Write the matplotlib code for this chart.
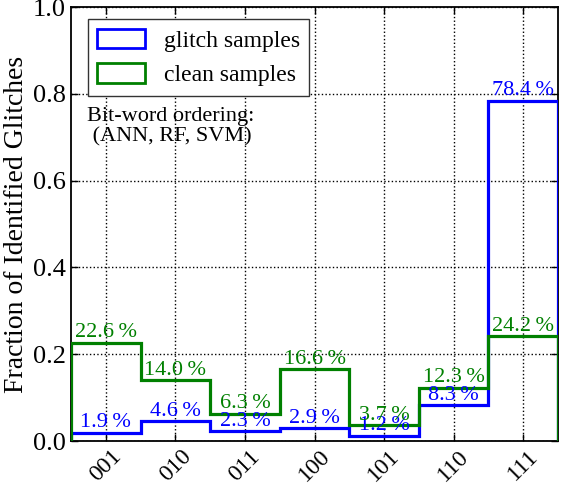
import matplotlib
matplotlib.use("Agg")
import matplotlib.pyplot as plt
import numpy as np
from matplotlib.patches import Patch

categories = ["001", "010", "011", "100", "101", "110", "111"]
glitch = [0.019, 0.046, 0.023, 0.029, 0.012, 0.083, 0.784]
clean = [0.226, 0.140, 0.063, 0.166, 0.037, 0.123, 0.242]

plt.rcParams['font.family'] = ['Liberation Serif', 'DejaVu Serif']

fig = plt.figure(figsize=(5.69, 4.87), dpi=100)
ax = fig.add_axes([71/569, 1-441/487, (558-71)/569, (441-7)/487])

n = len(categories)
edges = np.arange(n + 1)
centers = edges[:-1] + 0.5

ax.stairs(glitch, edges, baseline=0, color='#0000ff', lw=2.3, zorder=3)
ax.stairs(clean, edges, baseline=0, color='#008000', lw=2.3, zorder=3)

for c, v in zip(centers, glitch):
    ax.text(c, v + 0.001, f"{v*100:.1f}\u2009%", color='#0000ff', ha='center', va='bottom', fontsize=16, zorder=4)
for c, v in zip(centers, clean):
    ax.text(c, v + 0.001, f"{v*100:.1f}\u2009%", color='#008000', ha='center', va='bottom', fontsize=16, zorder=4)

ax.set_xlim(0, n)
ax.set_ylim(0, 1.0)
ax.set_xticks(centers)
ax.set_xticklabels(categories, rotation=45, ha='center', fontsize=17)
ax.set_yticks([0, 0.2, 0.4, 0.6, 0.8, 1.0])
ax.set_yticklabels(["0.0", "0.2", "0.4", "0.6", "0.8", "1.0"], fontsize=19)
ax.tick_params(direction='in', top=True, right=True, length=5, width=1)
ax.grid(True, linestyle=':', color='black', lw=1)
ax.set_ylabel("Fraction of Identified Glitches", fontsize=20, labelpad=3)
for s in ax.spines.values():
    s.set_linewidth(1.3)

handles = [Patch(facecolor='none', edgecolor='#0000ff', lw=2),
           Patch(facecolor='none', edgecolor='#008000', lw=2)]
leg = ax.legend(handles, ["glitch samples", "clean samples"], loc='upper left',
                fontsize=17, fancybox=False, framealpha=1, edgecolor='#333333',
                bbox_to_anchor=(0.035, 0.972), borderaxespad=0, handlelength=2.0,
                handleheight=0.9)
leg.get_frame().set_linewidth(1)

ax.text(0.033, 0.77, "Bit-word ordering:\n (ANN, RF, SVM)", transform=ax.transAxes,
        fontsize=16, ha='left', va='top', linespacing=1.1)

fig.savefig("out.png", dpi=100)
